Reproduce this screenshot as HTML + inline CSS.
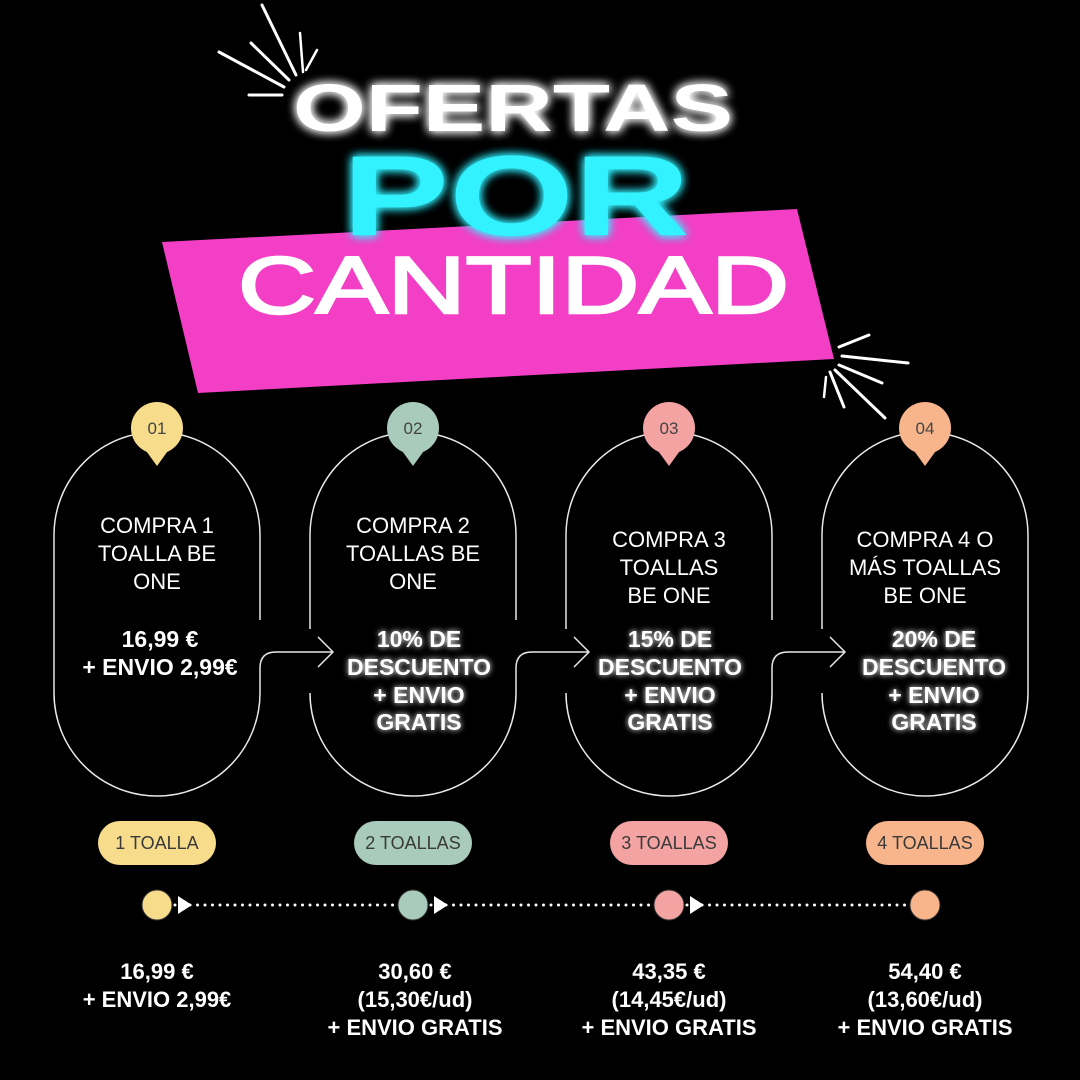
<!DOCTYPE html>
<html><head><meta charset="utf-8"><style>
html,body{margin:0;padding:0;background:#000;}
svg{display:block;}
text{font-family:"Liberation Sans",sans-serif;}
</style></head><body>
<svg width="1080" height="1080" viewBox="0 0 1080 1080" xmlns="http://www.w3.org/2000/svg">
<defs>
<filter id="glow" x="-20%" y="-50%" width="140%" height="200%">
<feGaussianBlur in="SourceGraphic" stdDeviation="5" result="b"/>
<feMerge><feMergeNode in="b"/><feMergeNode in="b"/><feMergeNode in="SourceGraphic"/></feMerge>
</filter>
<filter id="glow2" x="-20%" y="-50%" width="140%" height="200%">
<feGaussianBlur in="SourceGraphic" stdDeviation="3" result="b"/>
<feMerge><feMergeNode in="b"/><feMergeNode in="SourceGraphic"/></feMerge>
</filter>
</defs>
<rect width="1080" height="1080" fill="#000"/>

<g stroke="#fff" stroke-linecap="round" stroke-width="3">
<line x1="262" y1="5" x2="296" y2="75"/>
<line x1="300" y1="33" x2="303" y2="72" stroke-width="2.5"/>
<line x1="317" y1="50" x2="306" y2="70" stroke-width="2.5"/>
<line x1="251" y1="43" x2="289" y2="80"/>
<line x1="219" y1="52" x2="284" y2="87"/>
<line x1="249" y1="95" x2="282" y2="95"/>
<line x1="869" y1="335" x2="839" y2="347"/>
<line x1="908" y1="363" x2="842" y2="356"/>
<line x1="882" y1="383" x2="839" y2="365"/>
<line x1="885" y1="418" x2="835" y2="370"/>
<line x1="844" y1="407" x2="830" y2="372"/>
<line x1="824" y1="397" x2="826" y2="377" stroke-width="2.5"/>
</g>

<polygon points="162,242 797,209 834,359 198,393" fill="#f23fc6"/>

<text x="293" y="131" font-size="67" font-weight="bold" fill="#fff" textLength="440" lengthAdjust="spacingAndGlyphs" filter="url(#glow)">OFERTAS</text>
<text x="342" y="235" font-size="114" font-weight="bold" fill="#33f2ff" textLength="348" lengthAdjust="spacingAndGlyphs" filter="url(#glow)">POR</text>
<text x="238" y="313" font-size="81" fill="#fff" stroke="#fff" stroke-width="2.5" textLength="551" lengthAdjust="spacingAndGlyphs">CANTIDAD</text>

<g fill="none" stroke="#e8e8e8" stroke-width="1.5">
<path d="M54 535 A103 103 0 0 1 260 535 V620"/>
<path d="M260 693 A103 103 0 0 1 54 693 V535"/>
<path d="M260 693 V668 Q260 652 276 652 H333 M318 637 L333 652 L318 667"/>
<g transform="translate(256,0)">
<path d="M54 535 A103 103 0 0 1 260 535 V620"/>
<path d="M260 693 A103 103 0 0 1 54 693"/>
<path d="M54 629 V535"/>
<path d="M260 693 V668 Q260 652 276 652 H333 M318 637 L333 652 L318 667"/>
</g>
<g transform="translate(512,0)">
<path d="M54 535 A103 103 0 0 1 260 535 V620"/>
<path d="M260 693 A103 103 0 0 1 54 693"/>
<path d="M54 629 V535"/>
<path d="M260 693 V668 Q260 652 276 652 H333 M318 637 L333 652 L318 667"/>
</g>
<g transform="translate(768,0)">
<path d="M54 535 A103 103 0 0 1 260 535 V693"/>
<path d="M260 693 A103 103 0 0 1 54 693"/>
<path d="M54 629 V535"/>
</g>
</g>

<g font-size="17" fill="#444" text-anchor="middle">
<circle cx="157" cy="428" r="26" fill="#f7dc8c"/><polygon points="144,448 170,448 157,466" fill="#f7dc8c"/>
<text x="157" y="434">01</text>
<circle cx="413" cy="428" r="26" fill="#a8cbbb"/><polygon points="400,448 426,448 413,466" fill="#a8cbbb"/>
<text x="413" y="434">02</text>
<circle cx="669" cy="428" r="26" fill="#f4a3a3"/><polygon points="656,448 682,448 669,466" fill="#f4a3a3"/>
<text x="669" y="434">03</text>
<circle cx="925" cy="428" r="26" fill="#f8b48a"/><polygon points="912,448 938,448 925,466" fill="#f8b48a"/>
<text x="925" y="434">04</text>
</g>

<g font-size="22" fill="#fff" text-anchor="middle">
<text x="157" y="533">COMPRA 1</text>
<text x="157" y="561">TOALLA BE</text>
<text x="157" y="589">ONE</text>
<text x="413" y="533">COMPRA 2</text>
<text x="413" y="561">TOALLAS BE</text>
<text x="413" y="589">ONE</text>
<text x="669" y="547">COMPRA 3</text>
<text x="669" y="575">TOALLAS</text>
<text x="669" y="603">BE ONE</text>
<text x="925" y="547">COMPRA 4 O</text>
<text x="925" y="575">MÁS TOALLAS</text>
<text x="925" y="603">BE ONE</text>
</g>
<g font-size="23" font-weight="bold" fill="#fff" text-anchor="middle">
<text x="160" y="647">16,99 €</text>
<text x="160" y="675">+ ENVIO 2,99€</text>
</g>
<g font-size="23" font-weight="bold" fill="#fff" text-anchor="middle" filter="url(#glow2)">
<text x="419" y="647">10% DE</text>
<text x="419" y="675">DESCUENTO</text>
<text x="419" y="703">+ ENVIO</text>
<text x="419" y="730">GRATIS</text>
<text x="670" y="647">15% DE</text>
<text x="670" y="675">DESCUENTO</text>
<text x="670" y="703">+ ENVIO</text>
<text x="670" y="730">GRATIS</text>
<text x="934" y="647">20% DE</text>
<text x="934" y="675">DESCUENTO</text>
<text x="934" y="703">+ ENVIO</text>
<text x="934" y="730">GRATIS</text>
</g>

<g font-size="18" fill="#3a3a3a" text-anchor="middle">
<rect x="98" y="821" width="118" height="44" rx="22" fill="#f7dc8c"/><text x="157" y="849">1 TOALLA</text>
<rect x="354" y="821" width="118" height="44" rx="22" fill="#a8cbbb"/><text x="413" y="849">2 TOALLAS</text>
<rect x="610" y="821" width="118" height="44" rx="22" fill="#f4a3a3"/><text x="669" y="849">3 TOALLAS</text>
<rect x="866" y="821" width="118" height="44" rx="22" fill="#f8b48a"/><text x="925" y="849">4 TOALLAS</text>
</g>

<g stroke="#fff" stroke-width="3" stroke-linecap="round" stroke-dasharray="0 7.5">
<line x1="175" y1="905" x2="398" y2="905"/>
<line x1="431" y1="905" x2="654" y2="905"/>
<line x1="687" y1="905" x2="910" y2="905"/>
</g>
<g fill="#fff">
<polygon points="178,896 192,905 178,914"/>
<polygon points="434,896 448,905 434,914"/>
<polygon points="690,896 704,905 690,914"/>
</g>
<g stroke="#333" stroke-width="1">
<circle cx="157" cy="905" r="15" fill="#f7dc8c"/>
<circle cx="413" cy="905" r="15" fill="#a8cbbb"/>
<circle cx="669" cy="905" r="15" fill="#f4a3a3"/>
<circle cx="925" cy="905" r="15" fill="#f8b48a"/>
</g>

<g font-size="22" font-weight="bold" fill="#fff" text-anchor="middle">
<text x="157" y="979">16,99 €</text>
<text x="157" y="1007">+ ENVIO 2,99€</text>
<text x="415" y="979">30,60 €</text>
<text x="415" y="1007">(15,30€/ud)</text>
<text x="415" y="1035">+ ENVIO GRATIS</text>
<text x="669" y="979">43,35 €</text>
<text x="669" y="1007">(14,45€/ud)</text>
<text x="669" y="1035">+ ENVIO GRATIS</text>
<text x="925" y="979">54,40 €</text>
<text x="925" y="1007">(13,60€/ud)</text>
<text x="925" y="1035">+ ENVIO GRATIS</text>
</g>
</svg>
</body></html>
